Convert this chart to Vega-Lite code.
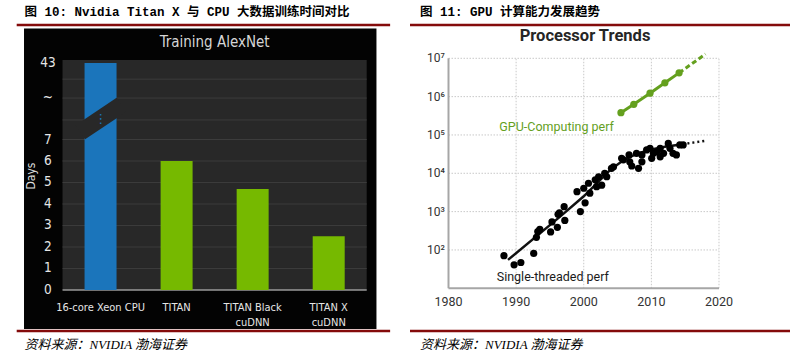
{
  "$schema": "https://vega.github.io/schema/vega-lite/v6.json",
  "background": "#ffffff",
  "padding": 0,
  "spacing": 0,
  "config": {"view": {"stroke": null}, "axis": {"disable": true}, "legend": {"disable": true}, "concat": {"spacing": 0}},
  "datasets": {
    "training": [
      {"processor": "16-core Xeon CPU", "label": ["16-core Xeon CPU"], "slot": 1, "days": 43, "kind": "CPU"},
      {"processor": "TITAN", "label": ["TITAN"], "slot": 2, "days": 6, "kind": "GPU"},
      {"processor": "TITAN Black cuDNN", "label": ["TITAN Black", "cuDNN"], "slot": 3, "days": 4.7, "kind": "GPU"},
      {"processor": "TITAN X cuDNN", "label": ["TITAN X", "cuDNN"], "slot": 4, "days": 2.5, "kind": "GPU"}
    ],
    "daysTicks": [
      {"tick": "0", "days": 0}, {"tick": "1", "days": 1}, {"tick": "2", "days": 2}, {"tick": "3", "days": 3},
      {"tick": "4", "days": 4}, {"tick": "5", "days": 5}, {"tick": "6", "days": 6}, {"tick": "7", "days": 7},
      {"tick": "~", "days": 26.4}, {"tick": "43", "days": 43}
    ],
    "daysGrid": [
      {"days": 1}, {"days": 2}, {"days": 3}, {"days": 4}, {"days": 5}, {"days": 6}, {"days": 7},
      {"days": 16.2}, {"days": 26.5}, {"days": 35.4}
    ],
    "single": [
      {"year": 1988.2, "perf": 71}, {"year": 1989.7, "perf": 41}, {"year": 1990.7, "perf": 47},
      {"year": 1992.6, "perf": 81}, {"year": 1993.0, "perf": 214}, {"year": 1993.2, "perf": 302},
      {"year": 1993.5, "perf": 347}, {"year": 1995.1, "perf": 295}, {"year": 1995.3, "perf": 537},
      {"year": 1996.1, "perf": 389}, {"year": 1996.2, "perf": 851}, {"year": 1996.4, "perf": 933},
      {"year": 1997.1, "perf": 1349}, {"year": 1997.2, "perf": 589}, {"year": 1999.0, "perf": 3311},
      {"year": 1999.5, "perf": 1000}, {"year": 2000.0, "perf": 4074}, {"year": 2000.2, "perf": 1698},
      {"year": 2000.7, "perf": 5495}, {"year": 2000.9, "perf": 3020}, {"year": 2001.7, "perf": 6761},
      {"year": 2001.9, "perf": 4467}, {"year": 2002.2, "perf": 8128}, {"year": 2002.65, "perf": 4898},
      {"year": 2003.1, "perf": 10000}, {"year": 2003.4, "perf": 8128}, {"year": 2004.1, "perf": 13490},
      {"year": 2004.4, "perf": 14791}, {"year": 2005.6, "perf": 24547}, {"year": 2005.85, "perf": 22387},
      {"year": 2006.7, "perf": 30200}, {"year": 2006.8, "perf": 19953}, {"year": 2007.1, "perf": 15488},
      {"year": 2007.8, "perf": 33113}, {"year": 2008.1, "perf": 13490}, {"year": 2008.6, "perf": 30200},
      {"year": 2008.6, "perf": 19953}, {"year": 2009.3, "perf": 40738}, {"year": 2009.8, "perf": 44668},
      {"year": 2010.05, "perf": 24547}, {"year": 2010.3, "perf": 33113}, {"year": 2010.8, "perf": 36308},
      {"year": 2011.3, "perf": 26915}, {"year": 2011.3, "perf": 44668}, {"year": 2011.8, "perf": 33113},
      {"year": 2012.5, "perf": 60256}, {"year": 2012.75, "perf": 44668}, {"year": 2013.2, "perf": 33113},
      {"year": 2013.7, "perf": 30200}, {"year": 2014.2, "perf": 54954}, {"year": 2014.7, "perf": 54954}
    ],
    "singleTrend": [
      {"year": 1988.8, "perf": 55, "segment": "measured"},
      {"year": 1996.5, "perf": 741, "segment": "measured"},
      {"year": 2000.0, "perf": 2512, "segment": "measured"},
      {"year": 2002.0, "perf": 5623, "segment": "measured"},
      {"year": 2004.0, "perf": 12589, "segment": "measured"},
      {"year": 2006.0, "perf": 22909, "segment": "measured"},
      {"year": 2008.0, "perf": 33113, "segment": "measured"},
      {"year": 2010.0, "perf": 41687, "segment": "measured"},
      {"year": 2012.0, "perf": 48978, "segment": "measured"},
      {"year": 2014.6, "perf": 57544, "segment": "measured"},
      {"year": 2014.6, "perf": 57544, "segment": "projected"},
      {"year": 2018.0, "perf": 70795, "segment": "projected"}
    ],
    "gpu": [
      {"year": 2005.5, "perf": 380189, "segment": "measured"},
      {"year": 2007.4, "perf": 630957, "segment": "measured"},
      {"year": 2009.8, "perf": 1230269, "segment": "measured"},
      {"year": 2012.0, "perf": 2290868, "segment": "measured"},
      {"year": 2014.1, "perf": 4168694, "segment": "measured"},
      {"year": 2014.1, "perf": 4168694, "segment": "projected"},
      {"year": 2018.0, "perf": 12882496, "segment": "projected"}
    ],
    "perfTicks": [
      {"perf": 100, "label": "10²"}, {"perf": 1000, "label": "10³"}, {"perf": 10000, "label": "10⁴"},
      {"perf": 100000, "label": "10⁵"}, {"perf": 1000000, "label": "10⁶"}, {"perf": 10000000, "label": "10⁷"}
    ],
    "yearTicks": [{"year": 1980}, {"year": 1990}, {"year": 2000}, {"year": 2010}, {"year": 2020}],
    "yearGrid": [{"year": 1990}, {"year": 2000}, {"year": 2010}, {"year": 2020}]
  },
  "hconcat": [
    {
      "width": 400,
      "height": 355,
      "layer": [
        {
          "data": {"values": [{}]},
          "mark": {"type": "rect", "color": "#030303"},
          "encoding": {
            "x": {"datum": -0.0064, "type": "quantitative", "scale": {"domain": [-0.25641, 4.87179], "nice": false, "zero": false}, "axis": null},
            "x2": {"datum": 4.628},
            "y": {"datum": -1.814, "type": "quantitative", "scale": {"domain": [-3.0233, 7, 72.65], "range": [355, 139.5, 0], "nice": false, "zero": false}, "axis": null},
            "y2": {"datum": 59.24}
          }
        },
        {
          "data": {"values": [{}]},
          "mark": {"type": "rect", "color": "#282828"},
          "encoding": {
            "x": {"datum": 0.5, "type": "quantitative"}, "x2": {"datum": 4.5},
            "y": {"datum": 0, "type": "quantitative"}, "y2": {"datum": 44.41}
          }
        },
        {
          "data": {"name": "daysGrid"},
          "mark": {"type": "rule", "color": "#3c3c3c", "strokeWidth": 1},
          "encoding": {
            "x": {"datum": 0.5, "type": "quantitative"}, "x2": {"datum": 4.5},
            "y": {"field": "days", "type": "quantitative"}
          }
        },
        {
          "data": {"values": [{}]},
          "mark": {"type": "rule", "color": "#9a9a9a", "strokeWidth": 1.5},
          "encoding": {
            "x": {"datum": 0.5, "type": "quantitative"}, "x2": {"datum": 4.5},
            "y": {"datum": 0, "type": "quantitative"}
          }
        },
        {
          "data": {"name": "training"},
          "mark": {"type": "bar", "width": 32, "orient": "vertical"},
          "encoding": {
            "x": {"field": "slot", "type": "quantitative"},
            "y": {"field": "days", "type": "quantitative"},
            "y2": {"datum": 0},
            "color": {"field": "kind", "type": "nominal", "scale": {"domain": ["CPU", "GPU"], "range": ["#1b75bb", "#76b900"]}, "legend": null}
          }
        },
        {
          "data": {"values": [{}]},
          "mark": {"type": "rule", "color": "#282828", "strokeWidth": 17},
          "encoding": {
            "x": {"datum": 0.735, "type": "quantitative"}, "x2": {"datum": 1.273},
            "y": {"datum": 10.41, "type": "quantitative"}, "y2": {"datum": 23.28}
          }
        },
        {
          "data": {"values": [{}]},
          "mark": {"type": "text", "text": "⋮", "color": "#1b75bb", "fontSize": 13, "font": "DejaVu Sans", "align": "center", "baseline": "middle"},
          "encoding": {
            "x": {"datum": 1.004, "type": "quantitative"},
            "y": {"datum": 16.88, "type": "quantitative"}
          }
        },
        {
          "data": {"name": "training"},
          "mark": {"type": "text", "color": "#e6e6e6", "fontSize": 11, "font": "Liberation Sans Narrow, DejaVu Sans Condensed, Roboto", "align": "center", "baseline": "top", "lineHeight": 15},
          "encoding": {
            "x": {"field": "slot", "type": "quantitative"},
            "y": {"datum": -0.55, "type": "quantitative"},
            "text": {"field": "label"}
          }
        },
        {
          "data": {"name": "daysTicks"},
          "mark": {"type": "text", "color": "#e6e6e6", "fontSize": 13.5, "font": "Liberation Sans Narrow, DejaVu Sans Condensed, Roboto", "align": "center", "baseline": "middle"},
          "encoding": {
            "x": {"datum": 0.3077, "type": "quantitative"},
            "y": {"field": "days", "type": "quantitative"},
            "text": {"field": "tick"}
          }
        },
        {
          "data": {"values": [{}]},
          "mark": {"type": "text", "text": "Days", "angle": 270, "color": "#dddddd", "fontSize": 12, "font": "Liberation Sans Narrow, DejaVu Sans Condensed, Roboto", "align": "center", "baseline": "middle"},
          "encoding": {
            "x": {"datum": 0.0897, "type": "quantitative"},
            "y": {"datum": 5.3, "type": "quantitative"}
          }
        },
        {
          "data": {"values": [{}]},
          "mark": {"type": "text", "text": "Training AlexNet", "color": "#d6d6d6", "fontSize": 15, "font": "Liberation Sans Narrow, DejaVu Sans Condensed, Roboto", "align": "center", "baseline": "middle"},
          "encoding": {
            "x": {"datum": 2.5, "type": "quantitative"},
            "y": {"datum": 52.88, "type": "quantitative"}
          }
        },
        {
          "data": {"values": [{}]},
          "mark": {"type": "text", "text": "图 10: Nvidia Titan X 与 CPU 大数据训练时间对比", "color": "#000000", "fontSize": 12.5, "fontWeight": "bold", "font": "Liberation Mono, Noto Sans CJK SC", "align": "left", "baseline": "middle"},
          "encoding": {
            "x": {"datum": 0, "type": "quantitative"},
            "y": {"datum": 67.0, "type": "quantitative"}
          }
        },
        {
          "data": {"values": [{}]},
          "mark": {"type": "rule", "color": "#840b0b", "strokeWidth": 2.5},
          "encoding": {
            "x": {"datum": -0.1026, "type": "quantitative"}, "x2": {"datum": 4.8077},
            "y": {"datum": 60.88, "type": "quantitative"}
          }
        },
        {
          "data": {"values": [{}]},
          "mark": {"type": "rule", "color": "#840b0b", "strokeWidth": 2.5},
          "encoding": {
            "x": {"datum": -0.1026, "type": "quantitative"}, "x2": {"datum": 4.8077},
            "y": {"datum": -1.907, "type": "quantitative"}
          }
        },
        {
          "data": {"values": [{}]},
          "mark": {"type": "text", "text": "资料来源：NVIDIA 渤海证券", "color": "#000000", "fontSize": 13, "fontStyle": "italic", "font": "Liberation Serif, Noto Sans CJK SC", "align": "left", "baseline": "middle"},
          "encoding": {
            "x": {"datum": 0, "type": "quantitative"},
            "y": {"datum": -2.558, "type": "quantitative"}
          }
        }
      ]
    },
    {
      "width": 401,
      "height": 355,
      "layer": [
        {
          "data": {"name": "perfTicks"},
          "mark": {"type": "rule", "color": "#c9c9c9", "strokeWidth": 1, "strokeDash": [1.5, 1.5]},
          "encoding": {
            "x": {"datum": 1980, "type": "quantitative", "scale": {"domain": [1972.828, 2032.126], "nice": false, "zero": false}, "axis": null},
            "x2": {"datum": 2020},
            "y": {"field": "perf", "type": "quantitative", "scale": {"type": "log", "domain": [0.18163, 331900000], "nice": false}, "axis": null}
          }
        },
        {
          "data": {"name": "yearGrid"},
          "mark": {"type": "rule", "color": "#c9c9c9", "strokeWidth": 1, "strokeDash": [1.5, 1.5]},
          "encoding": {
            "x": {"field": "year", "type": "quantitative"},
            "y": {"datum": 10, "type": "quantitative"}, "y2": {"datum": 10000000}
          }
        },
        {
          "data": {"values": [{}]},
          "mark": {"type": "rule", "color": "#a6a6a6", "strokeWidth": 2},
          "encoding": {
            "x": {"datum": 1980, "type": "quantitative"},
            "y": {"datum": 10, "type": "quantitative"}, "y2": {"datum": 10000000}
          }
        },
        {
          "data": {"values": [{}]},
          "mark": {"type": "rule", "color": "#a6a6a6", "strokeWidth": 2},
          "encoding": {
            "x": {"datum": 1980, "type": "quantitative"}, "x2": {"datum": 2020},
            "y": {"datum": 10, "type": "quantitative"}
          }
        },
        {
          "data": {"name": "perfTicks"},
          "mark": {"type": "text", "color": "#333333", "fontSize": 12, "font": "Roboto, DejaVu Sans", "align": "right", "baseline": "middle"},
          "encoding": {
            "x": {"datum": 1979.48, "type": "quantitative"},
            "y": {"field": "perf", "type": "quantitative"},
            "text": {"field": "label"}
          }
        },
        {
          "data": {"name": "yearTicks"},
          "mark": {"type": "text", "color": "#333333", "fontSize": 12.5, "font": "Roboto, DejaVu Sans", "align": "center", "baseline": "middle"},
          "encoding": {
            "x": {"field": "year", "type": "quantitative"},
            "y": {"datum": 4.466, "type": "quantitative"},
            "text": {"field": "year", "type": "ordinal"}
          }
        },
        {
          "data": {"name": "singleTrend"},
          "transform": [{"filter": "datum.segment === 'measured'"}],
          "mark": {"type": "line", "color": "#111111", "strokeWidth": 2.5},
          "encoding": {
            "x": {"field": "year", "type": "quantitative"},
            "y": {"field": "perf", "type": "quantitative"}
          }
        },
        {
          "data": {"name": "singleTrend"},
          "transform": [{"filter": "datum.segment === 'projected'"}],
          "mark": {"type": "line", "color": "#111111", "strokeWidth": 2.5, "strokeDash": [2, 3]},
          "encoding": {
            "x": {"field": "year", "type": "quantitative"},
            "y": {"field": "perf", "type": "quantitative"}
          }
        },
        {
          "data": {"name": "single"},
          "mark": {"type": "point", "filled": true, "opacity": 1, "color": "#000000", "size": 52},
          "encoding": {
            "x": {"field": "year", "type": "quantitative"},
            "y": {"field": "perf", "type": "quantitative"}
          }
        },
        {
          "data": {"name": "gpu"},
          "transform": [{"filter": "datum.segment === 'measured'"}],
          "mark": {"type": "line", "color": "#64a01e", "strokeWidth": 3, "point": {"filled": true, "size": 52, "color": "#64a01e", "opacity": 1}},
          "encoding": {
            "x": {"field": "year", "type": "quantitative"},
            "y": {"field": "perf", "type": "quantitative"}
          }
        },
        {
          "data": {"name": "gpu"},
          "transform": [{"filter": "datum.segment === 'projected'"}],
          "mark": {"type": "line", "color": "#64a01e", "strokeWidth": 3, "strokeDash": [5, 3]},
          "encoding": {
            "x": {"field": "year", "type": "quantitative"},
            "y": {"field": "perf", "type": "quantitative"}
          }
        },
        {
          "data": {"values": [{}]},
          "mark": {"type": "text", "text": "GPU-Computing perf", "color": "#64a01e", "fontSize": 12.5, "font": "Roboto, DejaVu Sans", "align": "left", "baseline": "middle"},
          "encoding": {
            "x": {"datum": 1987.51, "type": "quantitative"},
            "y": {"datum": 161400, "type": "quantitative"}
          }
        },
        {
          "data": {"values": [{}]},
          "mark": {"type": "text", "text": "Single-threaded perf", "color": "#1a1a1a", "fontSize": 12.5, "font": "Roboto, DejaVu Sans", "align": "left", "baseline": "middle"},
          "encoding": {
            "x": {"datum": 1987.13, "type": "quantitative"},
            "y": {"datum": 19.34, "type": "quantitative"}
          }
        },
        {
          "data": {"values": [{}]},
          "mark": {"type": "text", "text": "Processor Trends", "color": "#262626", "fontSize": 16.5, "fontWeight": "bold", "font": "Roboto, DejaVu Sans", "align": "center", "baseline": "middle"},
          "encoding": {
            "x": {"datum": 2000.185, "type": "quantitative"},
            "y": {"datum": 38180000, "type": "quantitative"}
          }
        },
        {
          "data": {"values": [{}]},
          "mark": {"type": "text", "text": "图 11: GPU 计算能力发展趋势", "color": "#000000", "fontSize": 12.5, "fontWeight": "bold", "font": "Liberation Mono, Noto Sans CJK SC", "align": "left", "baseline": "middle"},
          "encoding": {
            "x": {"datum": 1975.786, "type": "quantitative"},
            "y": {"datum": 161400000, "type": "quantitative"}
          }
        },
        {
          "data": {"values": [{}]},
          "mark": {"type": "rule", "color": "#840b0b", "strokeWidth": 2.5},
          "encoding": {
            "x": {"datum": 1974.307, "type": "quantitative"}, "x2": {"datum": 2030.499},
            "y": {"datum": 73930000, "type": "quantitative"}
          }
        },
        {
          "data": {"values": [{}]},
          "mark": {"type": "rule", "color": "#840b0b", "strokeWidth": 2.5},
          "encoding": {
            "x": {"datum": 1974.307, "type": "quantitative"}, "x2": {"datum": 2030.499},
            "y": {"datum": 0.768, "type": "quantitative"}
          }
        },
        {
          "data": {"values": [{}]},
          "mark": {"type": "text", "text": "资料来源：NVIDIA 渤海证券", "color": "#000000", "fontSize": 13, "fontStyle": "italic", "font": "Liberation Serif, Noto Sans CJK SC", "align": "left", "baseline": "middle"},
          "encoding": {
            "x": {"datum": 1975.786, "type": "quantitative"},
            "y": {"datum": 0.3313, "type": "quantitative"}
          }
        }
      ]
    }
  ]
}
